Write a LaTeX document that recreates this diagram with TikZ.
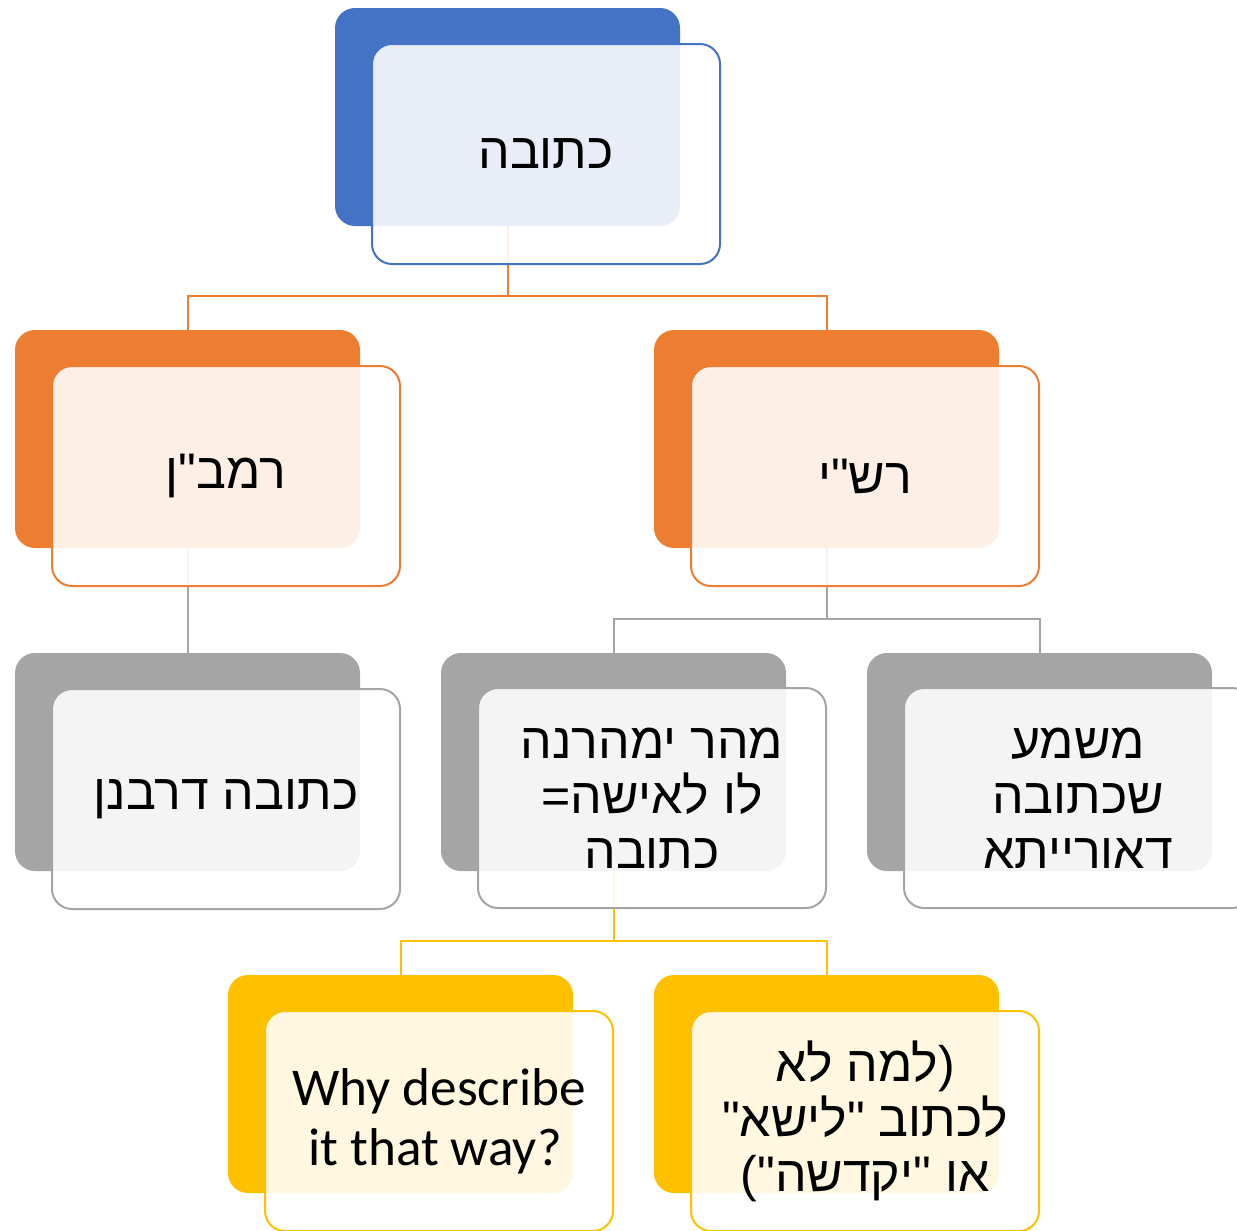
\documentclass[tikz,border=0pt]{standalone}
\usepackage{fontspec}
\setmainfont{Carlito}
\newfontfamily\heb[Script=Hebrew]{Liberation Sans}
\newfontfamily\lat{Liberation Sans}
\TeXXeTstate=1
\newcommand\rtl[1]{{\heb\beginR #1\endR}}
\definecolor{cblue}{HTML}{4472C4}
\definecolor{corange}{HTML}{ED7D31}
\definecolor{cgray}{HTML}{A5A5A5}
\definecolor{cyellow}{HTML}{FFC000}
\tikzset{
  backbox/.style={rectangle, rounded corners=10pt, minimum width=172.5pt, minimum height=109pt, fill=#1, draw=none, inner sep=0pt},
  frontbox/.style={rectangle, rounded corners=10pt, minimum width=174pt, minimum height=110pt, fill=white, fill opacity=0.88, text opacity=1, draw=#1, line width=1pt, inner sep=0pt, align=center, font=\heb\fontsize{25}{27.5}\selectfont},
  conn/.style={draw=#1, line width=1pt},
}
\begin{document}
\begin{tikzpicture}[x=0.5pt,y=-0.5pt]
\useasboundingbox (0,0) rectangle (1237,1231);
% back boxes
\node[backbox=cblue]   (A) at (507.5,117) {};
\node[backbox=corange] (B) at (187.5,439) {};
\node[backbox=corange] (C) at (826.5,439) {};
\node[backbox=cgray]   (D) at (187.5,762) {};
\node[backbox=cgray]   (E) at (613.5,762) {};
\node[backbox=cgray]   (F) at (1039.5,762) {};
\node[backbox=cyellow] (G) at (400.5,1084) {};
\node[backbox=cyellow] (H) at (826.5,1084) {};
% connectors
\coordinate (busA) at (507.5,296);
\coordinate (busC) at (826.5,619);
\coordinate (busE) at (613.5,941);
\draw[conn=corange] (A.south) -- (busA) -| (B.north);
\draw[conn=corange] (busA) -| (C.north);
\draw[conn=cgray] (B.south) -- (D.north);
\draw[conn=cgray] (C.south) -- (busC) -| (E.north);
\draw[conn=cgray] (busC) -| (F.north);
\draw[conn=cyellow] (E.south) -- (busE) -| (G.north);
\draw[conn=cyellow] (busE) -| (H.north);
% front boxes
\node[frontbox=cblue]   (A2) at (546,154) {\rtl{כתובה}};
\node[frontbox=corange] (B2) at (226,476) {\rtl{רמב"ן}};
\node[frontbox=corange] (C2) at (865,476) {\rtl{רש"י}};
\node[frontbox=cgray]   (D2) at (226,799) {\rtl{כתובה דרבנן}};
\node[frontbox=cgray]   (E2) at (652,798) {\rtl{מהר ימהרנה}\\{\lat =}\rtl{לו לאישה}\\\rtl{כתובה}};
\node[frontbox=cgray]   (F2) at (1078,798) {\rtl{משמע}\\\rtl{שכתובה}\\\rtl{דאורייתא}};
\node[frontbox=cyellow, font=\fontsize{26.6}{30}\selectfont] (G2) at (439,1121) {Why describe\\it that way?\hspace*{4pt}};
\node[frontbox=cyellow] (H2) at (865,1121) {\rtl{למה לא}{\lat )}\\\rtl{לכתוב "לישא"}\\{\lat (}\rtl{או "יקדשה"}};
\end{tikzpicture}
\end{document}
